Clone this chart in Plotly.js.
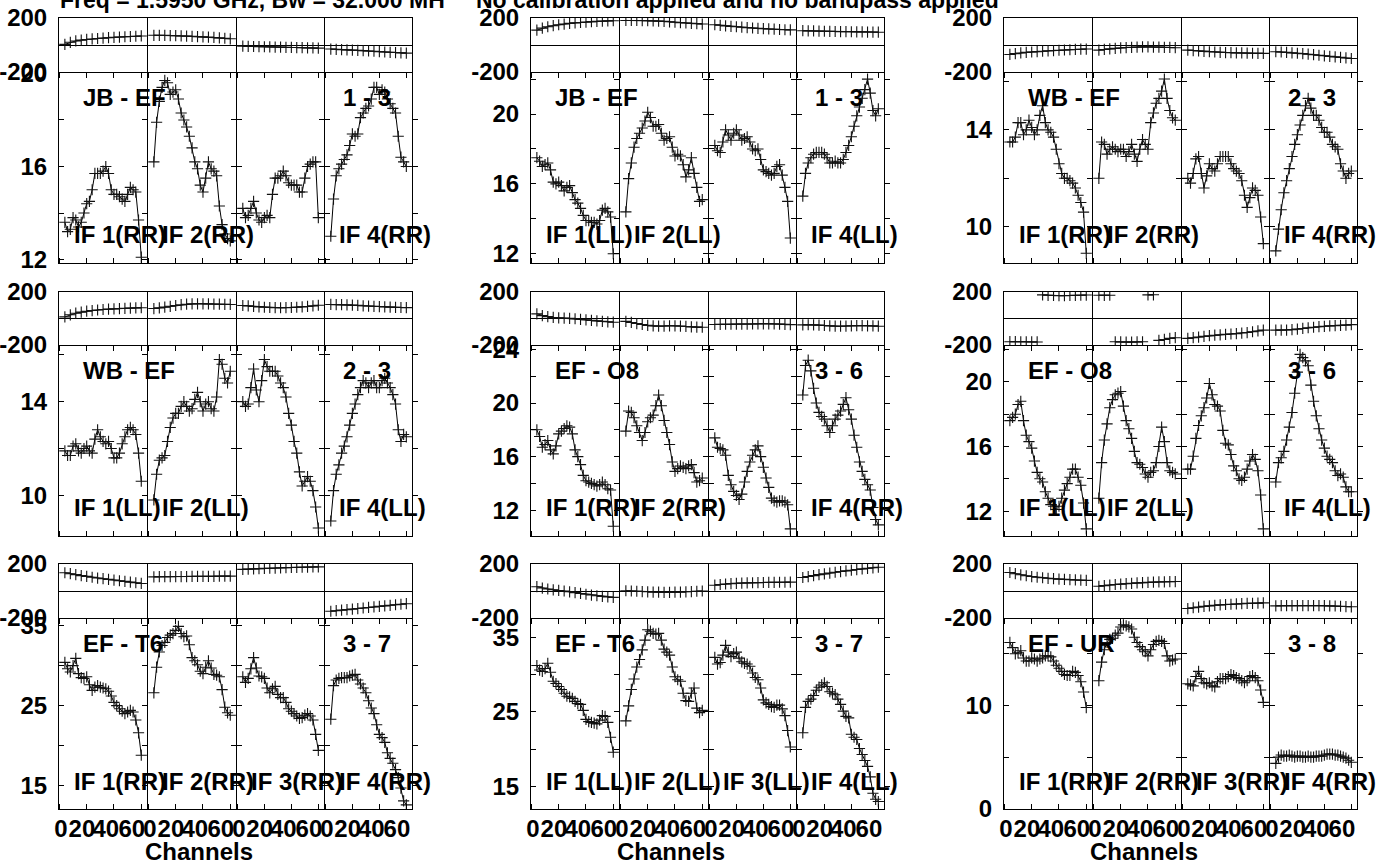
<!DOCTYPE html>
<html><head><meta charset="utf-8">
<script src="https://cdn.plot.ly/plotly-3.0.1.min.js"></script>
<style>html,body{margin:0;padding:0;background:#fff}#chart{width:1391px;height:864px}</style>
</head><body><div id="chart"></div>
<script>
// ---------------- DATA ----------------
const ampChannels = [4,6,8,10,12,14,16,18,20,22,24,26,28,30,32,34,36,38,40,42,44,46,48,50,52,54,56,58,60];
const phaseChannels = [4,8,12,16,20,24,28,32,36,40,44,48,52,56,60];

const titleLeft = "Freq = 1.5950 GHz, Bw = 32.000 MH";
const titleRight = "No calibration applied and no bandpass applied";
const xAxisTitle = "Channels";
const xTickMarks = [0,20,40,60];              // tick marks on the channel axis
const xTickText = ["0","20","40","60"];       // labels, set slightly packed as in the source plot
const xTickLabelPos = [1.1,16.5,34,53];

const baselines = ["JB - EF","JB - EF","WB - EF","WB - EF","EF - O8","EF - O8","EF - T6","EF - T6","EF - UR"];
const baselineNumbers = ["1 - 3","1 - 3","2 - 3","2 - 3","3 - 6","3 - 6","3 - 7","3 - 7","3 - 8"];
const ifLabels = [
  ["IF 1(RR)","IF 2(RR)","","IF 4(RR)"],
  ["IF 1(LL)","IF 2(LL)","","IF 4(LL)"],
  ["IF 1(RR)","IF 2(RR)","","IF 4(RR)"],
  ["IF 1(LL)","IF 2(LL)","","IF 4(LL)"],
  ["IF 1(RR)","IF 2(RR)","","IF 4(RR)"],
  ["IF 1(LL)","IF 2(LL)","","IF 4(LL)"],
  ["IF 1(RR)","IF 2(RR)","IF 3(RR)","IF 4(RR)"],
  ["IF 1(LL)","IF 2(LL)","IF 3(LL)","IF 4(LL)"],
  ["IF 1(RR)","IF 2(RR)","IF 3(RR)","IF 4(RR)"]
];

const ampRanges = [[11.85,20.02],[11.47,22.35],[8.5,16.35],[8.26,16.38],[10.07,24.26],[10.46,22.22],[12.08,35.82],[12.0,37.43],[-0.02,18.37]];
const ampTickVals = [
  [12,14,16,18,20],[12,14,16,18,20,22],[10,12,14,16],[10,12,14,16],[12,14,16,18,20,22,24],
  [12,14,16,18,20,22],[15,20,25,30,35],[15,20,25,30,35],[0,5,10,15]
];
const ampTickText = [
  ["12","","16","","20"],["12","","16","","20",""],["10","","14",""],["10","","14",""],["12","","16","","20","","24"],
  ["12","","16","","20",""],["15","","25","","35"],["15","","25","","35"],["0","","10",""]
];
const phaseRange = [-200,200];
const phaseTickVals = [-200,200];
const phaseTickText = ["-200","200"];

// amplitude, one list per IF (channels 4..60 step 2)
const amp1 = [
  [13.6,13.2,13.3,13.8,13.7,13.4,13.6,14.0,14.4,14.5,15.0,15.7,15.7,15.7,15.8,16.0,15.7,15.0,14.8,14.8,14.7,14.6,14.5,14.8,15.1,15.0,14.9,13.7,12.1],
  [16.2,17.9,18.8,19.4,19.7,19.6,19.1,19.2,19.3,18.9,18.3,18.0,17.7,17.3,16.8,16.2,15.9,15.2,14.9,15.5,16.2,15.9,15.8,15.6,14.3,13.5,13.1,12.9,12.8],
  [14.2,13.8,13.9,14.2,14.5,14.0,13.7,13.6,13.8,13.9,13.8,14.8,15.5,15.5,15.6,15.8,15.6,15.3,15.2,15.2,15.2,14.9,14.9,15.5,16.0,16.1,16.2,16.2,13.8],
  [13.0,14.6,15.6,15.9,16.1,16.3,16.5,16.9,17.4,17.3,17.4,18.1,18.3,18.5,18.6,18.9,19.4,19.4,19.1,19.3,19.2,18.9,18.7,18.5,18.3,17.3,16.4,16.2,16.0]
];
const amp2 = [
  [17.5,17.3,17.0,17.1,17.2,16.8,16.1,16.0,16.1,15.9,15.6,15.8,15.9,15.5,15.1,14.9,14.6,14.2,13.9,13.9,13.8,13.8,13.7,13.9,14.5,14.6,14.4,14.1,12.0],
  [14.4,16.3,17.2,18.1,18.6,18.9,19.2,19.6,20.1,19.8,19.3,19.3,19.4,18.9,18.5,18.6,18.7,18.1,17.6,17.7,17.6,17.1,16.4,16.8,17.5,16.6,15.8,15.0,15.1],
  [18.2,17.9,17.8,18.4,19.1,18.8,18.5,18.9,19.1,18.8,18.5,18.6,18.7,18.4,18.0,17.9,18.0,17.4,16.8,16.7,16.6,16.5,16.6,17.0,17.1,16.5,15.8,15.0,12.9],
  [15.3,16.6,17.2,17.5,17.7,17.8,17.8,17.8,17.7,17.5,17.2,17.2,17.3,17.2,17.2,17.4,17.8,18.2,18.7,19.3,19.9,20.4,20.9,21.4,22.0,21.2,20.2,19.9,20.3]
];
const amp3 = [
  [13.5,13.5,13.7,14.3,14.3,13.8,14.0,14.4,14.1,13.8,14.0,14.6,15.0,14.3,14.0,13.9,13.7,13.2,12.6,12.2,12.0,12.0,11.9,11.8,11.6,11.3,11.0,10.6,8.9],
  [12.0,13.5,13.4,13.0,13.2,13.3,13.2,13.1,13.2,13.2,12.9,13.1,13.4,13.0,12.7,13.2,13.6,13.4,13.2,14.3,14.7,15.1,15.3,15.6,16.1,15.3,14.8,14.5,14.4],
  [12.0,11.8,12.2,12.8,12.9,12.2,11.6,12.1,12.6,12.4,12.3,12.6,12.9,12.9,12.9,12.9,12.6,12.4,12.3,12.2,11.9,11.3,10.8,11.2,11.6,11.5,11.3,10.4,9.3],
  [9.0,9.9,10.7,11.4,11.9,12.4,12.9,13.4,13.8,14.2,14.6,15.0,15.3,14.9,14.6,14.6,14.4,14.1,13.9,13.9,13.7,13.4,13.3,13.2,12.6,12.3,12.0,12.2,12.3]
];
const amp4 = [
  [11.9,11.7,11.7,12.1,12.2,11.9,11.8,12.0,12.1,11.9,11.8,12.4,12.8,12.5,12.3,12.2,12.3,12.0,11.6,11.6,11.8,12.2,12.5,12.8,12.9,12.8,12.6,11.8,10.6],
  [9.8,10.9,11.5,11.6,11.7,12.3,12.9,13.3,13.5,13.5,13.8,14.0,13.8,13.6,13.7,14.1,14.4,14.0,13.6,13.9,14.0,13.7,13.6,14.2,15.8,15.6,15.0,14.8,15.3],
  [14.0,13.8,13.9,14.6,15.4,14.5,14.0,14.9,15.8,15.5,15.3,15.3,15.3,15.1,14.8,14.6,14.2,13.5,13.0,12.3,11.8,11.0,10.4,10.6,10.8,10.6,10.2,9.5,8.6],
  [8.9,10.2,10.9,11.3,11.8,12.1,12.5,13.0,13.5,13.9,14.3,14.6,14.9,14.8,14.6,14.8,14.9,14.6,14.6,14.9,15.0,14.8,14.6,14.3,13.9,12.8,12.3,12.6,12.5]
];
const amp5 = [
  [18.0,17.5,16.7,16.9,17.2,16.5,16.2,16.8,17.7,17.9,18.1,18.3,18.2,17.7,16.5,16.0,15.4,14.6,14.2,14.1,14.0,13.9,13.8,13.9,14.1,13.9,13.6,13.5,10.8],
  [17.9,19.4,19.3,18.9,18.3,17.8,17.2,17.8,18.6,18.9,19.1,19.8,20.6,19.8,18.7,17.8,16.9,15.6,14.9,15.1,15.3,15.2,15.1,15.3,15.4,14.8,14.1,14.2,14.4],
  [17.4,16.7,16.6,16.5,16.1,14.6,13.9,13.4,13.1,12.8,13.2,14.1,14.9,15.6,16.1,16.5,16.8,16.0,15.2,14.4,13.7,12.9,12.7,12.6,12.7,12.7,12.6,12.4,10.6],
  [20.6,22.8,23.2,22.4,21.1,20.0,19.3,19.0,18.8,18.3,17.8,18.3,18.8,19.1,19.4,19.9,20.4,19.5,18.8,17.6,16.7,15.6,14.9,14.3,13.9,13.5,12.2,11.3,10.9]
];
const amp6 = [
  [17.6,17.8,18.0,18.6,18.8,17.6,16.7,16.3,15.9,15.1,14.4,14.0,13.8,13.2,12.8,12.4,12.3,12.1,12.3,12.8,13.3,13.7,14.1,14.6,14.6,14.1,13.6,12.5,10.9],
  [12.8,15.0,16.4,17.4,18.4,18.9,19.2,19.3,19.4,18.5,17.6,17.1,16.5,15.7,15.0,14.9,14.7,14.3,14.1,14.4,14.5,15.0,16.0,17.2,16.3,15.0,14.5,14.4,14.3],
  [14.6,14.6,15.4,16.5,17.3,17.9,18.4,19.0,19.9,19.2,18.6,18.5,18.2,17.0,16.2,16.1,15.5,14.8,14.5,14.0,13.9,14.1,14.6,15.1,15.5,15.2,14.5,13.0,10.9],
  [13.8,15.0,15.3,15.7,16.4,17.2,18.1,19.3,20.6,21.7,21.5,21.3,21.0,19.8,18.8,17.9,17.1,16.4,15.9,15.4,15.2,15.0,14.5,14.2,14.3,14.1,13.5,13.2,13.2]
];
const amp7 = [
  [30.4,29.6,29.2,30.0,30.9,29.0,28.5,28.4,28.6,27.6,26.9,27.3,27.5,27.3,27.2,27.1,26.8,26.2,25.4,25.0,24.6,24.3,24.0,24.2,24.4,24.2,23.2,21.6,18.8],
  [26.6,29.8,31.7,32.5,32.9,33.5,33.8,34.0,34.4,34.9,34.0,33.6,33.7,32.6,31.0,30.6,30.1,29.3,29.0,29.8,30.6,29.7,28.9,28.8,28.6,27.0,24.8,24.1,23.8],
  [28.6,27.9,28.4,29.6,31.0,29.7,28.7,28.6,28.4,27.2,26.6,27.1,27.4,26.4,26.0,26.0,25.4,24.6,24.3,24.0,23.7,23.4,23.5,23.8,24.0,23.7,23.2,21.4,19.4],
  [23.3,27.5,28.2,28.4,28.5,28.5,28.5,28.7,28.8,28.9,28.2,27.7,27.2,26.6,25.6,24.7,24.0,22.6,21.4,21.0,20.4,19.1,18.4,17.8,17.0,16.0,14.7,13.1,12.6]
];
const amp8 = [
  [31.2,30.6,30.4,30.8,31.5,30.3,29.1,28.8,28.4,28.0,27.5,27.1,27.0,26.8,26.4,26.1,26.0,25.2,24.0,23.7,23.6,23.5,23.4,23.9,24.5,24.4,23.6,21.6,19.6],
  [23.8,25.8,28.0,29.4,31.0,32.0,33.3,34.6,36.0,35.8,35.5,35.4,35.5,34.6,33.4,33.0,32.6,31.0,29.7,29.3,29.1,27.5,26.5,26.4,27.5,28.2,25.5,24.9,25.2],
  [32.3,31.4,31.6,32.6,33.9,33.0,32.4,32.8,33.0,32.2,31.7,31.5,31.4,31.1,30.2,29.6,29.3,28.2,26.6,26.2,26.0,25.7,25.6,25.9,25.9,25.4,24.5,22.5,20.3],
  [22.2,25.6,26.4,26.7,27.2,27.9,28.3,28.6,28.9,28.4,27.7,27.5,27.3,26.7,26.0,25.1,24.4,24.2,22.0,21.6,21.3,20.1,19.3,18.5,17.7,16.3,14.1,13.3,13.0]
];
const amp9 = [
  [16.1,15.6,15.0,15.1,15.3,14.6,14.3,14.3,14.6,14.5,14.3,14.5,14.6,14.8,14.8,14.7,14.3,13.9,13.6,13.3,13.0,12.9,12.9,13.3,13.2,12.9,12.3,11.3,9.8],
  [12.4,14.2,15.4,16.1,16.4,16.5,16.8,17.0,17.6,17.8,17.7,17.6,17.4,16.6,16.1,15.7,15.4,15.2,14.8,15.4,15.9,16.2,16.3,16.2,16.0,14.8,14.3,14.4,14.5],
  [12.1,12.0,11.9,12.8,13.3,12.6,12.2,12.1,12.2,11.9,11.8,12.3,12.6,12.6,12.6,12.8,13.0,12.9,12.7,12.6,12.4,12.2,12.4,12.8,12.9,12.7,12.4,11.5,10.3],
  [4.4,5.0,5.2,5.1,5.1,5.2,5.1,5.0,5.1,5.1,5.0,5.0,5.1,5.0,5.0,5.1,5.1,5.1,5.2,5.3,5.3,5.3,5.2,5.2,5.1,5.0,4.9,4.7,4.5]
];

// phase in degrees, one list per IF (channels 4..60 step 4)
const phase1 = [
  [5,20,30,36,41,45,48,51,54,57,59,61,63,65,67],
  [72,72,71,70,69,67,66,64,62,60,58,56,53,50,46],
  [-8,-10,-11,-12,-13,-14,-15,-16,-17,-18,-19,-20,-21,-22,-23],
  [-30,-32,-34,-36,-38,-40,-42,-44,-46,-49,-52,-54,-56,-58,-60]
];
const phase2 = [
  [110,125,135,143,150,155,160,164,167,170,173,175,177,179,180],
  [182,182,182,181,180,179,177,175,172,169,166,163,160,158,155],
  [150,146,142,138,135,132,129,126,123,121,119,117,115,113,112],
  [106,105,104,103,102,101,100,99,99,98,97,97,96,96,95]
];
const phase3 = [
  [-70,-64,-59,-55,-52,-49,-46,-43,-41,-39,-37,-35,-33,-31,-30],
  [-38,-33,-29,-25,-22,-19,-17,-15,-14,-14,-15,-16,-17,-18,-20],
  [-38,-41,-44,-47,-50,-52,-54,-56,-57,-58,-59,-60,-61,-62,-62],
  [-50,-52,-55,-58,-61,-64,-68,-72,-76,-80,-84,-88,-92,-96,-100]
];
const phase4 = [
  [12,28,40,48,55,60,64,68,71,73,75,77,78,80,81],
  [75,80,86,92,98,104,108,110,111,111,110,109,108,107,106],
  [98,95,91,88,85,83,82,81,82,83,85,88,91,95,100],
  [106,105,104,103,101,99,96,94,92,90,88,86,84,83,82]
];
const phase5 = [
  [35,22,14,8,5,3,1,-2,-6,-10,-14,-18,-22,-25,-28],
  [-22,-30,-38,-45,-52,-56,-58,-57,-55,-55,-57,-60,-63,-65,-66],
  [-45,-44,-43,-43,-42,-42,-42,-41,-40,-40,-40,-41,-42,-44,-46],
  [-48,-47,-48,-50,-53,-56,-58,-58,-57,-55,-54,-54,-55,-56,-58]
];
const phase6 = [
  [-175,-175,-176,-176,-177,-177,178,175,174,173,173,174,175,176,177],
  [176,175,176,-176,-177,-178,-178,-177,-176,178,179,-165,-158,-150,-145],
  [-150,-145,-140,-135,-130,-126,-123,-120,-117,-114,-110,-106,-100,-94,-88],
  [-88,-88,-87,-84,-80,-75,-70,-66,-62,-59,-56,-54,-52,-50,-46]
];
const phase7 = [
  [135,128,121,114,108,102,96,91,86,81,76,71,66,61,56],
  [105,106,106,106,107,107,107,108,108,108,109,109,110,110,110],
  [160,162,164,166,168,169,170,172,173,174,175,176,177,178,179],
  [-150,-146,-142,-138,-134,-130,-126,-122,-118,-114,-110,-106,-102,-98,-94]
];
const phase8 = [
  [32,22,15,9,4,0,-6,-12,-18,-24,-30,-35,-40,-44,-47],
  [2,0,-2,-4,-6,-8,-9,-10,-10,-9,-8,-6,-4,-2,0],
  [43,48,52,55,57,59,60,61,62,63,64,64,65,65,66],
  [100,107,114,121,127,133,139,144,149,154,159,164,168,172,176]
];
const phase9 = [
  [137,128,120,113,107,102,98,94,91,88,86,84,82,80,79],
  [35,40,44,48,51,54,57,60,62,64,66,67,68,69,70],
  [-130,-124,-119,-114,-110,-106,-103,-100,-98,-96,-94,-92,-91,-90,-88],
  [-110,-109,-108,-108,-108,-108,-108,-108,-108,-109,-110,-111,-113,-115,-117]
];

const amps = [amp1,amp2,amp3,amp4,amp5,amp6,amp7,amp8,amp9];
const phases = [phase1,phase2,phase3,phase4,phase5,phase6,phase7,phase8,phase9];

// ---------------- LAYOUT GEOMETRY (pixels) ----------------
const FW = 1391, FH = 864;
const colLeft = [59, 531, 1004];
const colWidth = 353;
const rowTop = [18, 292, 564];
const rowSplit = [72, 345, 618];
const rowBottom = [263, 536, 809];
const FONT = "Liberation Sans, Arial, Helvetica, sans-serif";
const FS = 24;
const px = v => v / FW;
const py = v => 1 - v / FH;
const nm = (l, i) => i === 1 ? l : l + i;
const key = (l, i) => l + 'axis' + (i === 1 ? '' : i);

const traces = [];
const layout = {
  width: FW, height: FH,
  margin: {l:0, r:0, t:0, b:0},
  paper_bgcolor: '#fff', plot_bgcolor: 'rgba(0,0,0,0)',
  showlegend: false,
  font: {family: FONT, size: FS, color: '#000', weight: 'bold'},
  annotations: []
};

function gapWrap(xs, ys) {
  const ox = [], oy = [];
  for (let i = 0; i < xs.length; i++) {
    if (i > 0 && Math.abs(ys[i] - ys[i-1]) > 180) { ox.push(null); oy.push(null); }
    ox.push(xs[i]); oy.push(ys[i]);
  }
  return {x: ox, y: oy};
}

const markerStyle = {symbol: 'cross-thin-open', size: 8, color: '#111', line: {color: '#111', width: 1.1}};
const tickFont = {family: FONT, size: FS, color: '#000', weight: 'bold'};
const annFont = {family: FONT, size: FS, color: '#000', weight: 'bold'};
const titleFont = {family: FONT, size: 23, color: '#000', weight: 'bold'};

for (let p = 0; p < 9; p++) {
  const row = Math.floor(p / 3), col = p % 3;
  const yA = 2*p + 1, yP = 2*p + 2;
  const subW = colWidth / 4;
  for (let k = 0; k < 4; k++) {
    const xi = 4*p + k + 1;
    // adjacent boxes are offset by 1px so their shared border lines coincide
    const l = Math.round(colLeft[col] + k*subW) + (k > 0 ? 1 : 0);
    const r = Math.round(colLeft[col] + (k+1)*subW);
    layout[key('x', xi)] = {
      domain: [px(l), px(r)],
      anchor: nm('y', yA),
      range: [-0.3, 64.2],
      tickmode: 'array', tickvals: xTickLabelPos, ticktext: xTickText, tickangle: 0,
      ticks: '', ticklen: 0,
      minor: {tickmode: 'array', tickvals: xTickMarks, ticks: 'inside', ticklen: 5, tickwidth: 1, tickcolor: '#000', showgrid: false},
      showline: true, linecolor: '#000', linewidth: 1, mirror: 'allticks',
      showgrid: false, zeroline: false,
      showticklabels: row === 2, tickfont: tickFont, ticklabelstandoff: -2,
      ticklabeloverflow: 'allow',
      fixedrange: true
    };
    traces.push({
      x: ampChannels, y: amps[p][k], xaxis: nm('x', xi), yaxis: nm('y', yA),
      type: 'scatter', mode: 'lines+markers',
      line: {color: '#000', width: 1}, marker: markerStyle, hoverinfo: 'skip'
    });
    const g = gapWrap(phaseChannels, phases[p][k]);
    traces.push({
      x: g.x, y: g.y, xaxis: nm('x', xi), yaxis: nm('y', yP),
      type: 'scatter', mode: 'lines+markers', connectgaps: false,
      line: {color: '#000', width: 1}, marker: markerStyle, hoverinfo: 'skip'
    });
    if (ifLabels[p][k]) {
      layout.annotations.push({
        xref: 'paper', yref: 'paper', x: px(colLeft[col] + k*subW + 13), y: py(rowBottom[row] - 28),
        xanchor: 'left', yanchor: 'middle', showarrow: false,
        text: ifLabels[p][k], font: annFont
      });
    }
  }
  layout[key('y', yA)] = {
    domain: [py(rowBottom[row]), py(rowSplit[row] + 1)],
    anchor: nm('x', 4*p + 1),
    range: ampRanges[p],
    tickmode: 'array', tickvals: ampTickVals[p], ticktext: ampTickText[p],
    ticks: 'inside', ticklen: 5, tickwidth: 1, tickcolor: '#000',
    showline: true, linecolor: '#000', linewidth: 1, mirror: 'allticks',
    showgrid: false, zeroline: false, tickfont: tickFont, ticklabelstandoff: 6,
    fixedrange: true
  };
  layout[key('y', yP)] = {
    domain: [py(rowSplit[row]), py(rowTop[row])],
    anchor: nm('x', 4*p + 1),
    range: phaseRange,
    tickmode: 'array', tickvals: phaseTickVals, ticktext: phaseTickText,
    ticks: 'inside', ticklen: 5, tickwidth: 1, tickcolor: '#000',
    showline: true, linecolor: '#000', linewidth: 1, mirror: 'allticks',
    showgrid: false, zeroline: true, zerolinecolor: '#000', zerolinewidth: 1,
    tickfont: tickFont, ticklabelstandoff: 6,
    fixedrange: true
  };
  layout.annotations.push({
    xref: 'paper', yref: 'paper', x: px(colLeft[col] + 22), y: py(rowSplit[row] + 25.5),
    xanchor: 'left', yanchor: 'middle', showarrow: false,
    text: baselines[p], font: annFont
  });
  layout.annotations.push({
    xref: 'paper', yref: 'paper', x: px(colLeft[col] + 3*subW + 17), y: py(rowSplit[row] + 25.5),
    xanchor: 'left', yanchor: 'middle', showarrow: false,
    text: baselineNumbers[p], font: annFont
  });
  if (row === 2) {
    layout.annotations.push({
      xref: 'paper', yref: 'paper', x: px(colLeft[col] + 139.5), y: py(851),
      xanchor: 'center', yanchor: 'middle', showarrow: false,
      text: xAxisTitle, font: annFont
    });
  }
}

layout.annotations.push({
  xref: 'paper', yref: 'paper', x: px(58), y: py(0), xanchor: 'left', yanchor: 'middle',
  showarrow: false, text: titleLeft, font: titleFont
});
layout.annotations.push({
  xref: 'paper', yref: 'paper', x: px(474), y: py(0), xanchor: 'left', yanchor: 'middle',
  showarrow: false, text: titleRight, font: titleFont
});

Plotly.newPlot('chart', traces, layout, {staticPlot: true, displayModeBar: false});
</script>
</body></html>
